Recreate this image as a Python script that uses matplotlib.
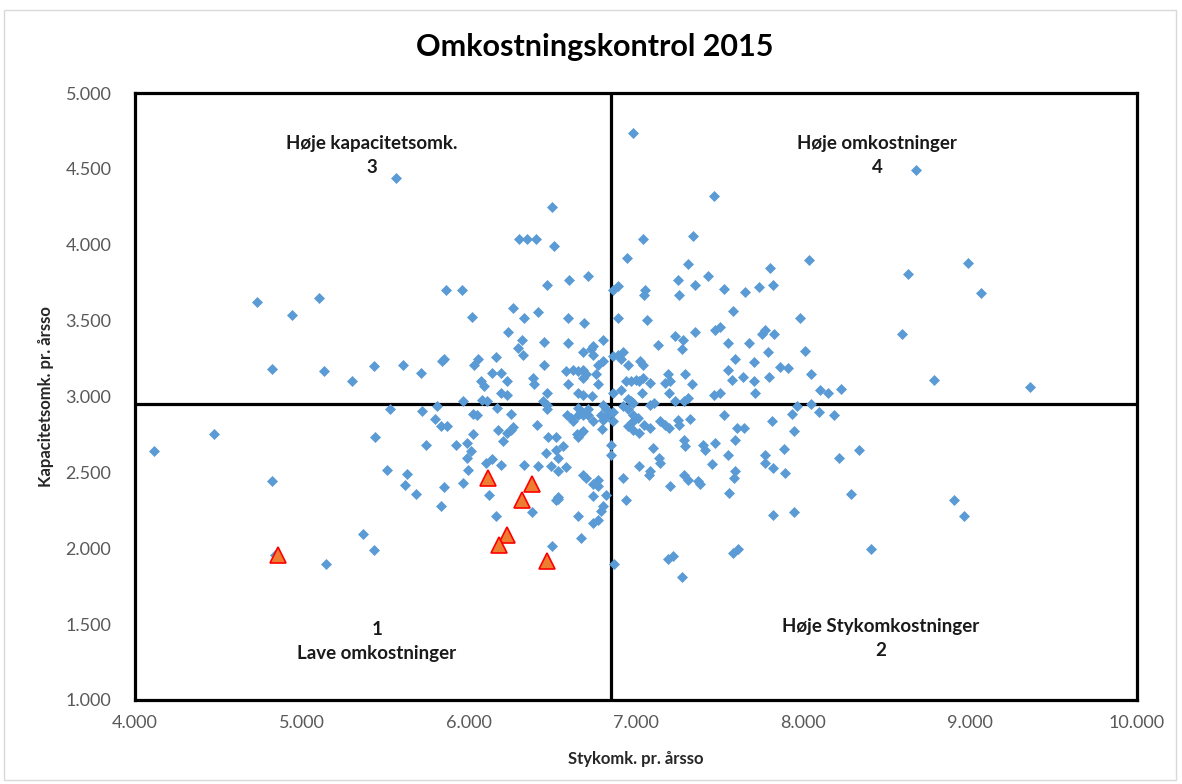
import matplotlib
matplotlib.use("Agg")
import matplotlib.pyplot as plt
from matplotlib.patches import Rectangle
from matplotlib.ticker import FuncFormatter, MultipleLocator

plt.rcParams['font.family'] = ['Lato', 'DejaVu Sans']

# ---- data (Stykomk. pr. årsso = x, Kapacitetsomk. pr. årsso = y) ----
west_x = [5560, 4730, 5100, 4940, 4820, 5130, 5300, 5430, 5605, 5710, 5525, 5720, 5795,
          4475, 4115, 5435, 5740, 5510, 5630, 5615, 5680, 4820, 4840, 5365, 5430, 5145]
west_y = [4440, 3625, 3650, 3540, 3180, 3165, 3100, 3200, 3210, 3155, 2915, 2905, 2855,
          2750, 2640, 2730, 2680, 2515, 2490, 2420, 2360, 2440, 1955, 2095, 1990, 1895]

top_x = [6980, 7470, 6495, 6300, 6350, 6400, 6510, 7040, 7340, 6945, 7310, 7430, 7250,
         7355, 7525, 6470, 6600, 6715, 5860, 5960, 6860, 6890, 7055, 7050, 7255, 8675,
         8035, 7805, 7820, 7735, 7650, 8630, 8990, 9065]
top_y = [4735, 4320, 4250, 4040, 4035, 4035, 3990, 4040, 4060, 3915, 3870, 3795, 3770,
         3735, 3710, 3735, 3770, 3795, 3705, 3705, 3705, 3730, 3705, 3670, 3670, 4495,
         3900, 3845, 3735, 3720, 3690, 3805, 3880, 3685]

east_x = [7580, 7985, 7755, 7770, 7825, 8590, 7550, 7675, 7790, 8010,
          7590, 7705, 7550, 7865, 7910, 7575, 7640, 7705, 7795, 8045,
          7715, 8100, 8150, 8225, 8785, 9360, 7965, 8045, 7935, 8095,
          8185, 7815, 7605, 7645, 7945, 7595, 7885, 8335, 7550, 7770,
          7770, 7820, 8215, 7895, 7595, 7585, 8285, 7555, 8905, 8965,
          7820, 7945, 7580, 7610, 8410]
east_y = [3565, 3515, 3410, 3440, 3410, 3410, 3355, 3350, 3295, 3300,
          3250, 3230, 3175, 3195, 3190, 3110, 3130, 3105, 3130, 3145,
          3025, 3040, 3025, 3050, 3110, 3065, 2940, 2950, 2885, 2895,
          2875, 2840, 2790, 2795, 2775, 2715, 2655, 2645, 2615, 2615,
          2565, 2530, 2595, 2495, 2510, 2460, 2360, 2365, 2315, 2215,
          2220, 2240, 1970, 1995, 1995]

south_x = [5830, 6120, 6160, 6380, 6520, 6535, 6650, 6740, 6820, 6745,
           6770, 6790, 6805, 6670, 6500, 6870, 6940, 7190, 7220, 7275]
south_y = [2280, 2350, 2215, 2240, 2315, 2325, 2215, 2345, 2350, 2165,
           2185, 2245, 2280, 2070, 2015, 1895, 2320, 1930, 1950, 1810]

center_hi_x = [6265, 6415, 6020, 6330, 6590, 6690, 6890, 7065,
               6235, 6315, 6450, 6590, 6800, 7130, 7235, 7280, 7355, 7475, 7505, 7275,
               6295, 6325, 6160, 6030, 6055, 5850, 5840, 6450, 6680, 6730, 6745, 6740,
               6800, 6775, 6860, 6890, 6910, 6920, 6950, 7025, 7040,
               6580, 6625, 6655, 6685, 6700, 6680, 6760, 6135, 6190, 6225, 6385, 6390,
               6070, 6090, 6590, 6770,
               6940, 6970, 7000, 7015, 7040, 7085, 7190, 7175, 7205, 7295, 7335, 7200,
               6190, 6230, 6470, 6655, 6680, 6735, 6860, 6910, 7035,
               5965, 6080, 6110, 6445, 6955, 6970, 6985, 7105, 7235, 7285, 7310, 7465, 7505]
center_hi_y = [3580, 3555, 3525, 3520, 3515, 3485, 3515, 3505,
               3425, 3375, 3360, 3350, 3375, 3340, 3400, 3375, 3425, 3440, 3460, 3315,
               3320, 3275, 3260, 3210, 3245, 3245, 3235, 3205, 3290, 3310, 3335, 3275,
               3235, 3210, 3270, 3275, 3245, 3290, 3205, 3235, 3210,
               3165, 3175, 3170, 3175, 3145, 3125, 3145, 3155, 3155, 3100, 3125, 3085,
               3105, 3070, 3080, 3085,
               3105, 3105, 3110, 3105, 3125, 3090, 3145, 3090, 3105, 3150, 3080, 3025,
               3025, 3010, 3025, 3025, 3010, 3005, 3025, 3040, 3025,
               2970, 2980, 2970, 2970, 2985, 2970, 2960, 2960, 2970, 2970, 2990, 3010, 3025]

center_lo_x = [6470, 6805, 7085,
               5810, 6170, 6470, 6650, 6670, 6710, 6685, 6655, 6715, 6820,
               6790, 6830, 6800, 6865, 6860, 6925, 6955, 6980, 7010, 6985,
               6955, 7045, 7085, 7145, 7175, 7195, 7250, 7255, 7325, 7525,
               5830, 5870, 6025, 6050, 6250, 6410, 6585, 6610, 6625, 6745,
               6265, 6250, 6230, 6205, 6175, 6025, 5990, 5920,
               6645, 6655, 6670, 6685, 6475, 6520, 6795, 6850, 6850, 6985,
               7015, 7100, 7285, 7295, 7400, 7415, 7475,
               6565, 6460, 6520, 6530, 6330, 6415, 6490, 6580, 6530, 6010,
               5990, 5995, 6140, 6100, 6190, 5965, 5850,
               6680, 6700, 6770, 6775, 6745, 7015, 7080, 7085, 7135, 7145,
               7205, 6920, 7285, 7310, 7370, 7385, 7455, 6530]
center_lo_y = [2945, 2945, 2945,
               2940, 2925, 2915, 2925, 2905, 2915, 2880, 2875, 2875, 2915,
               2880, 2875, 2845, 2895, 2840, 2940, 2915, 2880, 2860, 2840,
               2805, 2815, 2795, 2840, 2815, 2795, 2845, 2815, 2855, 2875,
               2805, 2805, 2885, 2875, 2885, 2815, 2880, 2860, 2840, 2840,
               2800, 2780, 2760, 2710, 2780, 2755, 2695, 2680,
               2750, 2730, 2760, 2775, 2735, 2735, 2785, 2680, 2615, 2780,
               2760, 2660, 2715, 2675, 2680, 2645, 2695,
               2675, 2625, 2645, 2595, 2550, 2545, 2545, 2535, 2510, 2640,
               2595, 2515, 2590, 2565, 2550, 2430, 2405,
               2480, 2465, 2450, 2410, 2425, 2545, 2485, 2510, 2595, 2565,
               2410, 2465, 2480, 2450, 2445, 2425, 2555, 2340]

# highlighted units (triangles)
tri_x = [6115, 6380, 6320, 6225, 6180, 6465, 4855]
tri_y = [2460, 2425, 2320, 2090, 2020, 1915, 1955]

# quadrant split values
styk_split = 6850
kap_split = 2950

title = "Omkostningskontrol 2015"
xlabel = "Stykomk. pr. årsso"
ylabel = "Kapacitetsomk. pr. årsso"
quadrant_texts = ["Høje kapacitetsomk.\n3", "Høje omkostninger\n4",
                  "1\nLave omkostninger", "Høje Stykomkostninger\n2"]

# ---- figure ----
W, H = 1182, 784
fig = plt.figure(figsize=(W / 100, H / 100), dpi=100)
fig.patch.set_facecolor("white")
fig.patches.append(Rectangle((4 / W, 1 - 780 / H), 1172 / W, 770 / H,
                             transform=fig.transFigure, fill=False,
                             edgecolor="#D9D9D9", linewidth=1.0))

ax = fig.add_axes([135 / W, 1 - 700 / H, 1002 / W, 607 / H])

all_x = west_x + top_x + east_x + south_x + center_hi_x + center_lo_x
all_y = west_y + top_y + east_y + south_y + center_hi_y + center_lo_y
ax.plot(all_x, all_y, linestyle="none", marker="D", markersize=5.3,
        markerfacecolor="#5B9BD5", markeredgecolor="#5B9BD5",
        markeredgewidth=0.5, zorder=3)
ax.plot(tri_x, tri_y, linestyle="none", marker="^", markersize=11,
        markerfacecolor="#ED7D31", markeredgecolor="#FF0000",
        markeredgewidth=1.2, zorder=4)

ax.axvline(styk_split, color="black", linewidth=2.3, zorder=2)
ax.axhline(kap_split, color="black", linewidth=2.3, zorder=2)

ax.set_xlim(4000, 10000)
ax.set_ylim(1000, 5000)
ax.xaxis.set_major_locator(MultipleLocator(1000))
ax.yaxis.set_major_locator(MultipleLocator(500))
fmt = FuncFormatter(lambda v, p: f"{v:,.0f}".replace(",", "."))
ax.xaxis.set_major_formatter(fmt)
ax.yaxis.set_major_formatter(fmt)
ax.tick_params(axis="both", length=0, labelsize=13, colors="#595959")
ax.tick_params(axis="x", pad=11)
ax.tick_params(axis="y", pad=17)
for s in ax.spines.values():
    s.set_linewidth(2.3)
    s.set_color("black")

ax.set_xlabel(xlabel, fontsize=12, fontweight="bold", color="#262626", labelpad=14)
ax.set_ylabel(ylabel, fontsize=12, fontweight="bold", color="#262626")
ax.yaxis.set_label_coords((54 - 135) / 1002, 0.5)

qpos = [(0.2365, 0.897), (0.7405, 0.897), (0.2415, 0.097), (0.7445, 0.102)]
for (qx, qy), t in zip(qpos, quadrant_texts):
    ax.text(qx, qy, t, transform=ax.transAxes, ha="center", va="center",
            fontsize=13.5, fontweight="bold", color="#1a1a1a", linespacing=1.5)

fig.text(595 / W, 1 - 47 / H, title, ha="center", va="center",
         fontsize=22, fontweight="bold", color="black")

fig.savefig("out.png", dpi=100)
